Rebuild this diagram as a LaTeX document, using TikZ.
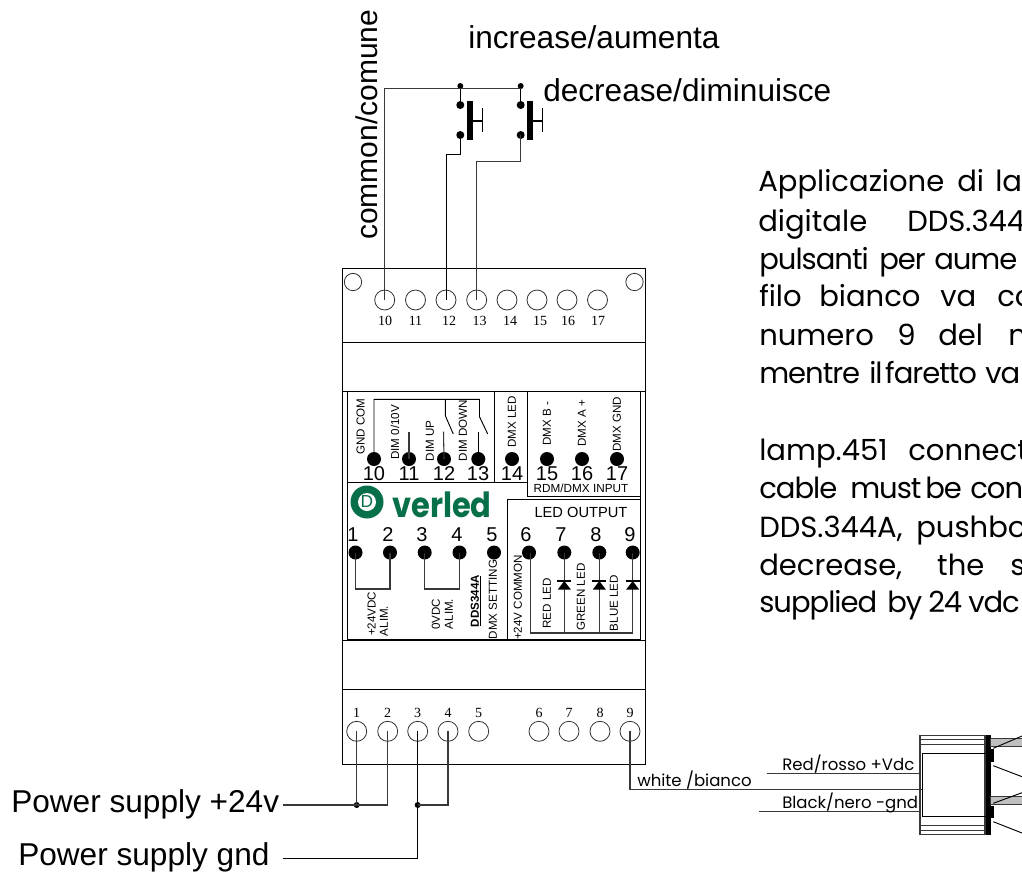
\documentclass[tikz,border=0pt]{standalone}
\usepackage{fontspec}
\setmainfont{Liberation Sans}
\newfontfamily\timesf{Liberation Serif}
\newfontfamily\gothic{Poppins}
\newcommand{\tight}{\addfontfeature{LetterSpace=-3.5}}
\definecolor{ovgreen}{RGB}{8,112,72}
\definecolor{wirec}{gray}{0.22}
\newcommand{\gw}[2]{\makebox[#1\dimexpr 0.75pt\relax][l]{#2}}
\tikzset{
  x=0.75pt,y=-0.75pt,
  wire/.style={draw=wirec,line width=0.8pt},
  thin line/.style={draw=black,line width=0.7pt},
  term/.style={circle,draw=black!80,line width=0.6pt,minimum size=15pt,inner sep=0pt},
  hole/.style={circle,draw=black!80,line width=0.6pt,minimum size=13pt,inner sep=0pt},
  pin/.style={circle,fill=black,minimum size=10.5pt,inner sep=0pt},
  jn/.style={circle,fill=black,minimum size=4.5pt,inner sep=0pt},
  swpin/.style={circle,fill=black,minimum size=6pt,inner sep=0pt},
  tnum/.style={font=\timesf\fontsize{10.5}{12}\selectfont,inner sep=0pt},
  pnum/.style={font=\fontsize{15}{18}\selectfont,inner sep=0pt},
  vlab/.style={rotate=90,font=\fontsize{8.7}{10}\selectfont,inner sep=0pt},
  big/.style={font=\fontsize{23.7}{27}\selectfont,inner sep=0pt,anchor=base west},
  para/.style={font=\gothic\fontsize{21.8}{27}\selectfont,inner sep=0pt,anchor=base west},
  wlab/.style={font=\gothic\fontsize{12.4}{14}\selectfont,inner sep=0pt,anchor=base west},
}
\begin{document}
\begin{tikzpicture}
\useasboundingbox (0,0) rectangle (1022,872);
\clip (0,0) rectangle (1022,872);
\fill[white] (0,0) rectangle (1022,872);

% housing
\draw[thin line] (342,268) rectangle (645.5,764);
\draw[thin line] (342,342) -- (645.5,342);
\draw[thin line] (342,391) -- (645.5,391);
\draw[thin line] (342,640.7) -- (645.5,640.7);
\draw[thin line] (342,689.5) -- (645.5,689.5);
\draw[thin line] (347,391.5) rectangle (640.7,639.5);
\draw[thin line] (494,391.5) -- (494,482);
\draw[thin line] (527.7,391.5) -- (527.7,496) -- (640.7,496);
\draw[thin line] (347,482) -- (527.7,482);
\draw[thin line] (507.7,639.5) -- (507.7,499.5) -- (640.7,499.5);

\node[hole] (h1) at (353,282) {};
\node[hole] (h2) at (634.5,282) {};

% top terminals
\foreach \n/\x/\lx in {10/384.7/385,11/415.5/415.5,12/446/449,13/476.7/479.5,14/507/510,15/537/540,16/567/568,17/597.5/598}{
  \node[term] (t\n) at (\x,300) {};
  \node[tnum] (tl\n) at (\lx,321) {\n};
}
% bottom terminals
\foreach \n/\x in {1/356.7,2/387.7,3/417.7,4/448,5/478.7,6/539,7/569,8/600,9/630}{
  \node[term] (b\n) at (\x,731.3) {};
  \node[tnum] (bl\n) at (\x,712.7) {\n};
}
% inner upper pins
\foreach \n/\x/\lx in {10/374/374,11/409/409,12/444/444,13/478.3/478,14/512/512,15/547/547,16/582/582,17/617/617}{
  \node[pin] (p\n) at (\x,459) {};
  \node[pnum] (pl\n) at (\lx,474) {\n};
}
% inner lower pins
\foreach \n/\x/\lx in {1/355.5/353,2/390/388,3/424.7/422,4/459.5/457,5/494/492,6/529/526,7/564.3/561,8/599.3/596,9/632.7/630}{
  \node[pin] (p\n) at (\x,552.5) {};
  \node[pnum] (pl\n) at (\lx,534.5) {\n};
}

% relay contacts
\coordinate (swtop) at (479.5,399.3);
\coordinate (swmid) at (445.3,399.3);
\draw[thin line] (p10.center) |- (swtop) -- (479.5,416.7) -- (487.7,434);
\draw[thin line] (swmid) -- (445.3,415.7) -- (453.3,434);
\draw[wire] (p11.center) -- (409,431.7);
\draw[wire] (p12.center) -- (443.5,431.7);
\draw[thin line] (p13.center) -- (478.3,431.7);

% brackets and LEDs
\coordinate (br12) at (372,589);
\coordinate (br34) at (442,589);
\draw[wire] (p1.center) |- (br12) -| (p2.center);
\draw[wire] (p3.center) |- (br34) -| (p4.center);
\coordinate (ledbus) at (580,633);
\draw[wire] (p6.center) ++(1.5,0) |- (ledbus);
\draw[wire] (ledbus) -| (p9.center);
\draw[wire] (p7.center) -- (564.3,633);
\draw[wire] (p8.center) -- (599.3,633);
\foreach \x in {564.3,599.3,632.7}{
  \fill[black] (\x,581) -- (\x-6.5,589.5) -- (\x+6.5,589.5) -- cycle;
  \draw[black,line width=1pt] (\x-7,581) -- (\x+7,581);
}

% inner labels
\node[vlab] (l1) at (360.7,426.5) {GND COM};
\node[vlab] (l2) at (395,432.5) {DIM 0/10V};
\node[vlab] (l3) at (430,441) {DIM UP};
\node[vlab] (l4) at (463,430.5) {DIM DOWN};
\node[vlab] (l5) at (512,422) {DMX LED};
\node[vlab] (l6) at (547,424) {DMX B -};
\node[vlab] (l7) at (582,423.5) {DMX A +};
\node[vlab] (l8) at (617,424) {DMX GND};
\node[inner sep=0pt,font=\fontsize{8.8}{10}\selectfont] (l9) at (581,488) {RDM/DMX INPUT};
\node[inner sep=0pt,font=\fontsize{11}{13}\selectfont] (l10) at (581,512.7) {LED OUTPUT};
\node[vlab] (l11) at (371.7,613.7) {+24VDC};
\node[vlab] (l12) at (384,621) {ALIM.};
\node[vlab] (l13) at (436,614.5) {0VDC};
\node[vlab] (l14) at (449,614) {ALIM.};
\node[vlab,font=\bfseries\fontsize{8.7}{10}\selectfont] (l15) at (475,601) {DDS344A};
\draw[black,line width=0.7pt] (480.5,576) -- (480.5,626);
\node[vlab] (l16) at (493,599.5) {DMX SETTING};
\node[vlab] (l17) at (518,597.5) {+24V COMMON};
\node[vlab] (l18) at (547,603.5) {RED LED};
\node[vlab] (l19) at (581,597) {GREEN LED};
\node[vlab] (l20) at (614,603) {BLUE LED};

% logo
\fill[ovgreen] (367,502) circle (16.5);
\fill[white] (367,502) circle (9);
\node[inner sep=0pt,text=ovgreen,font=\fontsize{13}{14}\selectfont] (logod) at (367,502) {D};
\node[inner sep=0pt,anchor=base west,text=ovgreen,font=\gothic\bfseries\fontsize{26}{30}\selectfont,xscale=0.88] (logot) at (392,517.7) {verled};

% push buttons
\node[jn] (s1t) at (460.3,86) {};
\node[jn] (s2t) at (520.7,86) {};
\node[swpin] (s1a) at (460.3,105) {};
\node[swpin] (s1b) at (460.3,135) {};
\node[swpin] (s2a) at (520.7,105) {};
\node[swpin] (s2b) at (520.7,135) {};
\draw[thin line] (s1t.center) -- (s1a.center);
\draw[thin line] (s2t.center) -- (s2a.center);
\foreach \x in {466.7,526.7}{
  \fill[black] (\x,101) rectangle (\x+6,139.5);
  \draw[black,line width=1.5pt] (\x+5,120.5) -- (\x+16,120.5);
  \draw[black,line width=0.6pt] (\x+16,108) -- (\x+16,132);
}
% wiring on top
\coordinate (c10) at (384.7,88.3);
\coordinate (c12a) at (460.3,154.3);
\coordinate (c13a) at (520.7,161.7);
\draw[wire] (t10.center) -- (c10) -- (s2t.center |- c10);
\draw[thin line] (s1b.center) -- (c12a) -| (t12.center);
\draw[wire] (s2b.center) -- (c13a) -| (t13.center);

% bottom wiring
\node[jn] (j1) at (356.7,805) {};
\node[jn] (j2) at (417.7,805) {};
\coordinate (pwr) at (282.7,805);
\coordinate (gnd) at (282.7,858);
\draw[wire] (b1.center) -- (j1.center);
\draw[wire] (pwr) -- (j1.center) -| (b2.center);
\draw[thin line] (b3.center) -- (417.7,858) -- (gnd);
\draw[wire] (j2.center) -| (b4.center);

% lamp wires
\coordinate (wht) at (921.7,789.7);
\coordinate (redl) at (766.7,773.7);
\coordinate (redr) at (920,773.7);
\coordinate (blkl) at (759,811.3);
\coordinate (blkr) at (920,811.3);
\draw[wire] (b9.center) |- (wht);
\draw[wire] (redl) -- (redr);
\draw[wire] (blkl) -- (blkr);

% lamp
\draw[wire] (920,735.7) rectangle (985,834.3);
\draw[wire] (920,739.3) -- (985,739.3);
\draw[wire] (920,744.3) -- (985,744.3);
\draw[wire] (920,825.7) -- (985,825.7);
\draw[wire] (920,830.7) -- (985,830.7);
\draw[thin line] (922,753.3) rectangle (986,816);
\fill[black] (986,734.5) rectangle (990.6,835);
\fill[black] (990,749.3) rectangle (993.5,761.7);
\fill[black] (990,806) rectangle (993.5,817.7);
\filldraw[fill=black!25,draw=wirec,line width=0.6pt] (990.6,738.3) rectangle (1030,746);
\filldraw[fill=black!25,draw=wirec,line width=0.6pt] (990.6,796.7) rectangle (1030,804);
\draw[thin line] (993.3,748.3) -- (1022,736);
\draw[thin line] (993.3,765.7) -- (1022,776.7);
\draw[thin line] (993.3,803.3) -- (1022,792.7);
\draw[thin line] (993.3,821.7) -- (1022,833);

% wire labels
\node[wlab] (w1) at (637,786) {white /bianco};
\node[wlab] (w2) at (782,770.5) {Red/rosso +Vdc};
\node[wlab] (w3) at (782,808) {Black/nero -gnd};

% big labels
\node[big,font=\fontsize{22.5}{27}\selectfont,rotate=90] (a1) at (377,240) {common/comune};
\node[big] (a2) at (468,48) {increase/aumenta};
\node[big] (a3) at (543,101) {decrease/diminuisce};
\node[big] (a4) at (11,812.7) {Power supply +24v};
\node[big] (a5) at (18,865) {Power supply gnd};

% paragraph
\node[para] (r1) at (758,191.7) {\gw{199}{Applicazione}\gw{38}{di}lam};
\node[para] (r2) at (758,231) {\gw{149}{digitale}DDS.344};
\node[para] (r3) at (759,269.3) {\tight\gw{120}{pulsanti}\gw{55}{per}aume};
\node[para] (r4) at (759,306.7) {\gw{60}{filo}\gw{121}{bianco}\gw{57}{va}co};
\node[para] (r5) at (759,345) {\gw{138}{numero}\gw{41}{9}\gw{70}{del}n};
\node[para] (r6) at (759,383) {\tight\gw{110}{mentre}\gw{16}{il}\gw{100}{faretto}va};
\node[para] (r7) at (759,460.7) {\gw{149}{lamp.451}connect};
\node[para] (r8) at (759,498) {\tight\gw{91}{cable}\gw{75}{must}\gw{45}{be}con};
\node[para] (r9) at (759,537) {\gw{157}{DDS.344A,}pushbo};
\node[para] (r10) at (759,575) {\gw{178}{decrease,}\gw{73}{the}s};
\node[para] (r11) at (759,612) {\tight\gw{128}{supplied}\gw{41}{by}\gw{40}{24}vdc};
\end{tikzpicture}
\end{document}
